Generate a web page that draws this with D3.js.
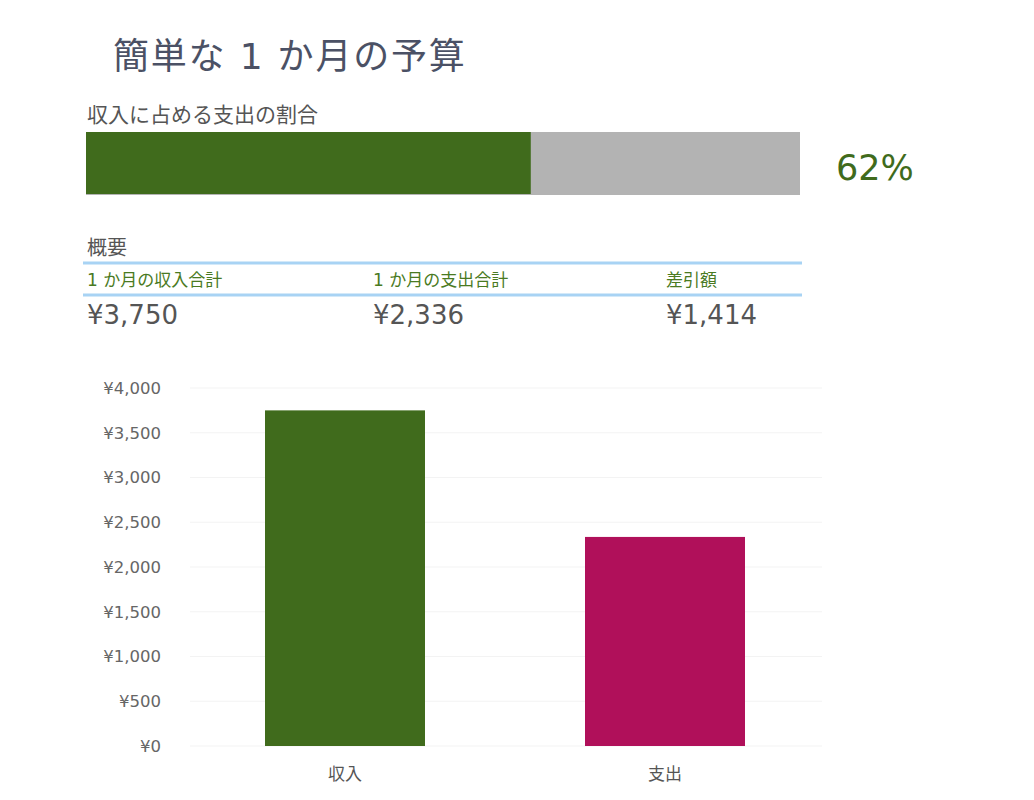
<!DOCTYPE html>
<html><head><meta charset="utf-8">
<script src="https://cdn.jsdelivr.net/npm/d3@7/dist/d3.min.js"></script>
<style>body{margin:0;background:#fff;} svg{display:block;} svg text{font-family:"DejaVu Sans","Noto Sans CJK JP",sans-serif;}</style>
</head><body>
<script>
const title = "簡単な 1 か月の予算";
const ratioTitle = "収入に占める支出の割合";
const summaryTitle = "概要";
const summaryLabels = ["1 か月の収入合計", "1 か月の支出合計", "差引額"];
const summaryValues = [3750, 2336, 1414];
const categories = ["収入", "支出"];
const values = [3750, 2336];
const barColors = ["#406b1c", "#b0105a"];
const yTicks = [0, 500, 1000, 1500, 2000, 2500, 3000, 3500, 4000];

const W = 1034, H = 800;
const svg = d3.select("body").append("svg").attr("width", W).attr("height", H);
const yen = v => "¥" + d3.format(",")(v);

svg.append("text").attr("x", 113).attr("y", 69).attr("font-size", 36).attr("letter-spacing", 1.8).attr("fill", "#4b5165").text(title);
svg.append("text").attr("x", 87).attr("y", 122).attr("font-size", 21).attr("fill", "#555").text(ratioTitle);

// progress bar
const ratio = values[1] / values[0];
const px = d3.scaleLinear().domain([0, 1]).range([86, 800]);
svg.append("rect").attr("x", px(0)).attr("y", 132).attr("width", px(1) - px(0)).attr("height", 63).attr("fill", "#b3b3b3");
svg.append("rect").attr("x", px(0)).attr("y", 132).attr("width", px(ratio) - px(0)).attr("height", 62).attr("fill", "#406b1c");
svg.append("text").attr("x", 836).attr("y", 180).attr("font-size", 35).attr("fill", "#406b1c").text(d3.format(".0%")(ratio));

// summary
svg.append("text").attr("x", 87).attr("y", 255).attr("font-size", 20).attr("fill", "#555").text(summaryTitle);
[263, 295].forEach(y => svg.append("line").attr("x1", 83).attr("x2", 802).attr("y1", y).attr("y2", y).attr("stroke", "#a8d3f4").attr("stroke-width", 3));
const sx = [87, 373, 666];
summaryLabels.forEach((l, i) => {
  svg.append("text").attr("x", sx[i]).attr("y", 286).attr("font-size", 17).attr("fill", "#4a7a22").text(l);
  svg.append("text").attr("x", sx[i]).attr("y", 324).attr("font-size", 26).attr("fill", "#555").text(yen(summaryValues[i]));
});

// bar chart
const x = d3.scaleBand().domain(categories).range([185, 825]).paddingInner(0.5).paddingOuter(0.25);
const y = d3.scaleLinear().domain([0, 4000]).range([746, 388]);

const grid = svg.append("g");
grid.selectAll("line").data(yTicks).join("line")
  .attr("x1", 190).attr("x2", 822).attr("y1", d => y(d)).attr("y2", d => y(d))
  .attr("stroke", "#f3f3f3").attr("stroke-width", 1);

const yAxis = svg.append("g").attr("transform", "translate(161,0)")
  .call(d3.axisLeft(y).tickValues(yTicks).tickFormat(yen).tickSize(0).tickPadding(0));
yAxis.attr("font-family", null).attr("font-size", null);
yAxis.select(".domain").remove();
yAxis.selectAll("text").attr("font-size", 16.5).attr("fill", "#666");

svg.append("g").selectAll("rect").data(values).join("rect")
  .attr("x", (d, i) => x(categories[i])).attr("width", x.bandwidth())
  .attr("y", d => y(d)).attr("height", d => y(0) - y(d))
  .attr("fill", (d, i) => barColors[i]);

const xAxis = svg.append("g").attr("transform", "translate(0,746)")
  .call(d3.axisBottom(x).tickSize(0).tickPadding(22));
xAxis.attr("font-family", null).attr("font-size", null);
xAxis.select(".domain").remove();
xAxis.selectAll("text").attr("font-size", 17).attr("fill", "#555");
</script>
</body></html>
